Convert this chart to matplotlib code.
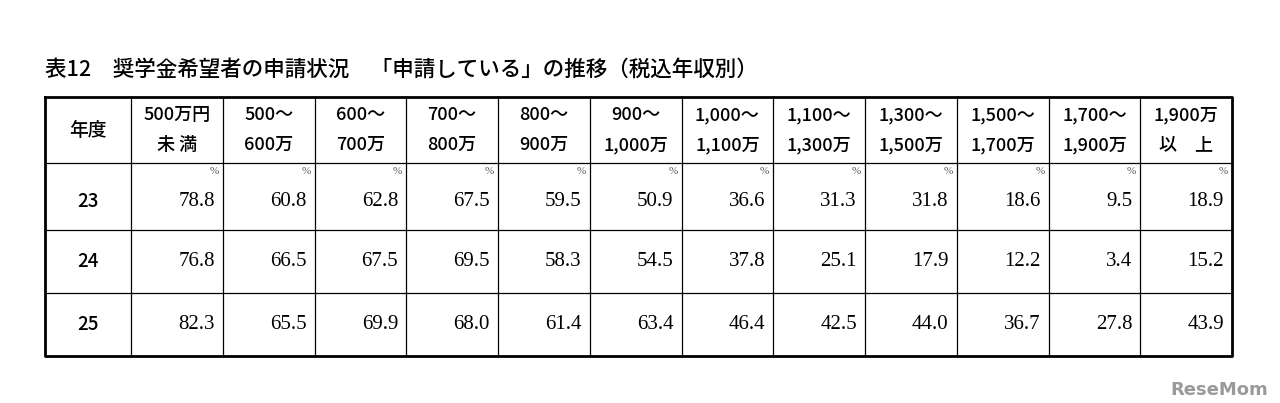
import matplotlib.pyplot as plt

plt.rcParams['font.family'] = ['Noto Sans CJK JP', 'DejaVu Sans']

# ─── データ ───
TITLE = "表12　奨学金希望者の申請状況　「申請している」の推移（税込年収別）"
HEADER_FIRST = "年度"
INCOME_HEADERS = [
    ("500万円", "未 満"), ("500～", "600万"), ("600～", "700万"), ("700～", "800万"),
    ("800～", "900万"), ("900～", "1,000万"), ("1,000～", "1,100万"), ("1,100～", "1,300万"),
    ("1,300～", "1,500万"), ("1,500～", "1,700万"), ("1,700～", "1,900万"), ("1,900万", "以　上"),
]
YEARS = ["23", "24", "25"]
VALUES_23 = [78.8, 60.8, 62.8, 67.5, 59.5, 50.9, 36.6, 31.3, 31.8, 18.6, 9.5, 18.9]
VALUES_24 = [76.8, 66.5, 67.5, 69.5, 58.3, 54.5, 37.8, 25.1, 17.9, 12.2, 3.4, 15.2]
VALUES_25 = [82.3, 65.5, 69.9, 68.0, 61.4, 63.4, 46.4, 42.5, 44.0, 36.7, 27.8, 43.9]
ROWS = [VALUES_23, VALUES_24, VALUES_25]

# ─── レイアウト（ピクセル座標） ───
W, H = 1280, 403
X0, X1 = 45, 1232
FIRST_W = 86
Y_LINES = [97, 163, 230, 293, 356]

fig = plt.figure(figsize=(W / 100, H / 100), dpi=100)
ax = fig.add_axes([0, 0, 1, 1])
ax.set_xlim(0, W)
ax.set_ylim(H, 0)
ax.axis("off")

ax.text(X0, 70, TITLE, fontsize=15.5, va="center", ha="left", color="black",
        fontweight="medium")

col_w = (X1 - X0 - FIRST_W) / len(INCOME_HEADERS)
x_lines = [X0, X0 + FIRST_W] + [X0 + FIRST_W + col_w * (i + 1) for i in range(len(INCOME_HEADERS))]

# 罫線
ax.plot([X0, X1, X1, X0, X0], [Y_LINES[0], Y_LINES[0], Y_LINES[-1], Y_LINES[-1], Y_LINES[0]],
        color="black", lw=2)
for x in x_lines[1:-1]:
    ax.plot([x, x], [Y_LINES[0], Y_LINES[-1]], color="black", lw=0.9)
for y in Y_LINES[1:-1]:
    ax.plot([X0, X1], [y, y], color="black", lw=0.9)

# ヘッダー
ax.text(X0 + FIRST_W / 2, (Y_LINES[0] + Y_LINES[1]) / 2, HEADER_FIRST,
        fontsize=13.5, ha="center", va="center", fontweight="medium")
for i, (top, bottom) in enumerate(INCOME_HEADERS):
    cx = (x_lines[i + 1] + x_lines[i + 2]) / 2
    ax.text(cx, 115, top, fontsize=13, ha="center", va="center", fontweight="medium")
    ax.text(cx, 145, bottom, fontsize=13, ha="center", va="center", fontweight="medium")

# データ行
for r, (year, vals) in enumerate(zip(YEARS, ROWS)):
    y_top, y_bot = Y_LINES[r + 1], Y_LINES[r + 2]
    cy = (y_top + y_bot) / 2 + (5 if r == 0 else 0)
    ax.text(X0 + FIRST_W / 2, cy, year, fontsize=13.5, ha="center", va="center",
            fontweight="medium")
    for i, v in enumerate(vals):
        xr = x_lines[i + 2]
        ax.text(xr - 8, cy, f"{v:.1f}", fontsize=15, ha="right", va="center",
                family="Liberation Serif")
        if r == 0:
            ax.text(xr - 4, y_top + 9, "%", fontsize=8, ha="right", va="center",
                    color="#555555", family="Liberation Serif")

# ウォーターマーク
ax.text(1268, 390, "ReseMom", fontsize=13, ha="right", va="center",
        color="#9a9a9a", fontweight="bold", family="DejaVu Sans")

fig.savefig("out.png", dpi=100)
